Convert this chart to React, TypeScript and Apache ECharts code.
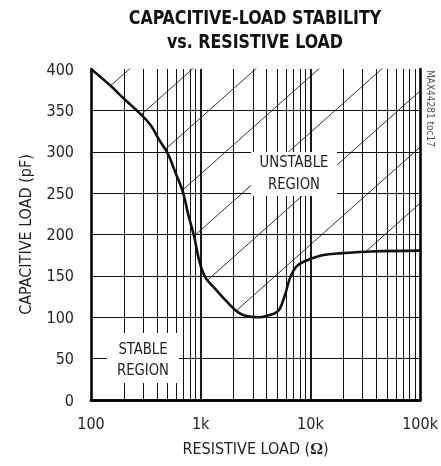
import React, { useEffect, useRef } from "react";
import * as echarts from "echarts";

// ---- data ----
const resistance = [100, 150, 200, 280, 350, 420, 500, 600, 690, 770, 870, 970, 1050, 1130, 1300, 1700, 2250, 2900, 3500, 4100, 4900, 5300, 5900, 6500, 7400, 9000, 12800, 20000, 36000, 100000];
const capacitance = [400, 380, 364, 346, 332, 314, 298, 272, 251, 224, 198, 168, 154, 146, 137, 120, 105, 100.5, 100, 102, 106, 111, 128, 147, 161, 168, 175, 177.5, 179.5, 180.5];

const xTickValues = [100, 1000, 10000, 100000];
const xTickLabels = ["100", "1k", "10k", "100k"];
const minorGridR = [200, 300, 400, 500, 600, 700, 800, 900, 2000, 3000, 4000, 5000, 6000, 7000, 8000, 9000, 20000, 30000, 40000, 50000, 60000, 70000, 80000, 90000];
const majorGridR = [1000, 10000];
const gridC = [50, 100, 150, 200, 250, 300, 350];

// hatch lines of the unstable region: log10(R) where each line meets C = 400, and slope in pF per decade
const hatchTopLogR = [2.35, 2.925, 3.5, 4.075, 4.65, 5.225, 5.8, 6.375];
const hatchSlope = 118;

const FONT = '"DejaVu Sans Condensed", "Liberation Sans", sans-serif';
const TXT = "#231f20";

export default function App() {
  const ref = useRef<HTMLDivElement>(null);
  useEffect(() => {
    if (!ref.current) return;
    const chart = echarts.init(ref.current, null, { renderer: "svg" });
    const curve = resistance.map((r, i) => [r, capacitance[i]]);
    const hatchSeries = hatchTopLogR.map((a) => ({
      type: "line",
      z: 1,
      silent: true,
      symbol: "none",
      clip: true,
      lineStyle: { color: "#000", width: 0.8 },
      data: [100, 100000].map((r) => [r, 400 + hatchSlope * (Math.log10(r) - a)]),
    }));
    const thin = { color: "#111", width: 1, type: "solid" as const };
    const markData = [
      ...minorGridR.map((v) => ({ xAxis: v, lineStyle: thin })),
      ...majorGridR.map((v) => ({ xAxis: v, lineStyle: { color: "#000", width: 1.8, type: "solid" as const } })),
      ...gridC.map((v) => ({ yAxis: v, lineStyle: thin })),
    ];
    const fmt = (v: number) => {
      const idx = xTickValues.findIndex((t) => Math.abs(t - v) / t < 1e-6);
      return idx >= 0 ? xTickLabels[idx] : "";
    };
    const boxText = (text: string, x: number, y: number) => ({
      type: "text",
      z: 51,
      x,
      y,
      scaleX: 0.92,
      style: { text, fontFamily: FONT, fontSize: 16, fill: TXT, textAlign: "center", textVerticalAlign: "middle" },
    });
    chart.setOption({
      animation: false,
      grid: { left: 91, top: 69, width: 331, height: 331 },
      xAxis: [
        {
          type: "log",
          logBase: 10,
          min: 100,
          max: 100000,
          z: 10,
          position: "bottom",
          axisLine: { show: true, lineStyle: { color: "#000", width: 2.6 } },
          axisTick: { show: false },
          splitLine: { show: false },
          axisLabel: { formatter: fmt, margin: 15, fontFamily: FONT, fontSize: 16, color: TXT },
          name: "RESISTIVE LOAD ({b|Ω})",
          nameLocation: "middle",
          nameGap: 40,
          nameTextStyle: {
            fontFamily: FONT,
            fontSize: 16,
            color: TXT,
            rich: { b: { fontFamily: '"Liberation Serif", serif', fontWeight: "bold", fontSize: 16, color: TXT } },
          },
        },
        {
          type: "log",
          logBase: 10,
          min: 100,
          max: 100000,
          z: 10,
          position: "top",
          axisLine: { show: true, lineStyle: { color: "#000", width: 2.6 } },
          axisTick: { show: false },
          splitLine: { show: false },
          axisLabel: { show: false },
        },
      ],
      yAxis: [
        {
          type: "value",
          min: 0,
          max: 400,
          interval: 50,
          z: 10,
          position: "left",
          axisLine: { show: true, lineStyle: { color: "#000", width: 2.6 } },
          axisTick: { show: false },
          splitLine: { show: false },
          axisLabel: { margin: 17, fontFamily: FONT, fontSize: 16, color: TXT },
          name: "CAPACITIVE LOAD (pF)",
          nameLocation: "middle",
          nameGap: 58,
          nameTextStyle: { fontFamily: FONT, fontSize: 16, color: TXT },
        },
        {
          type: "value",
          min: 0,
          max: 400,
          interval: 50,
          z: 10,
          position: "right",
          axisLine: { show: true, lineStyle: { color: "#000", width: 2.6 } },
          axisTick: { show: false },
          splitLine: { show: false },
          axisLabel: { show: false },
        },
      ],
      series: [
        ...hatchSeries,
        {
          type: "line",
          z: 2,
          silent: true,
          symbol: "none",
          smooth: 0.4,
          lineStyle: { width: 0 },
          areaStyle: { color: "#fff", opacity: 1 },
          data: curve,
        },
        {
          type: "line",
          z: 3,
          silent: true,
          symbol: "none",
          data: [],
          markLine: { silent: true, symbol: "none", label: { show: false }, animation: false, data: markData },
        },
        {
          type: "line",
          z: 4,
          silent: true,
          symbol: "none",
          smooth: 0.4,
          lineStyle: { color: "#111", width: 2.6 },
          data: curve,
        },
      ],
      graphic: [
        { type: "text", z: 50, x: 255, y: 17, scaleX: 0.88, style: { text: "CAPACITIVE-LOAD STABILITY", fontFamily: FONT, fontWeight: "bold", fontSize: 20, fill: "#111", textAlign: "center", textVerticalAlign: "middle" } },
        { type: "text", z: 50, x: 255, y: 41, scaleX: 0.88, style: { text: "vs. RESISTIVE LOAD", fontFamily: FONT, fontWeight: "bold", fontSize: 20, fill: "#111", textAlign: "center", textVerticalAlign: "middle" } },
        { type: "rect", z: 50, shape: { x: 251, y: 152, width: 86, height: 44 }, style: { fill: "#fff" } },
        boxText("UNSTABLE", 294, 162),
        boxText("REGION", 294, 184),
        { type: "rect", z: 50, shape: { x: 107, y: 333, width: 72, height: 50 }, style: { fill: "#fff" } },
        boxText("STABLE", 143, 349),
        boxText("REGION", 143, 370),
        { type: "text", z: 51, x: 430, y: 70, rotation: -Math.PI / 2, style: { text: "MAX44281 toc17", fontFamily: FONT, fontSize: 10, fill: "#555", textAlign: "left", textVerticalAlign: "middle" } },
      ],
    });
    return () => chart.dispose();
  }, []);
  return <div ref={ref} style={{ position: "fixed", left: 0, top: 0, width: 441, height: 466 }} />;
}
